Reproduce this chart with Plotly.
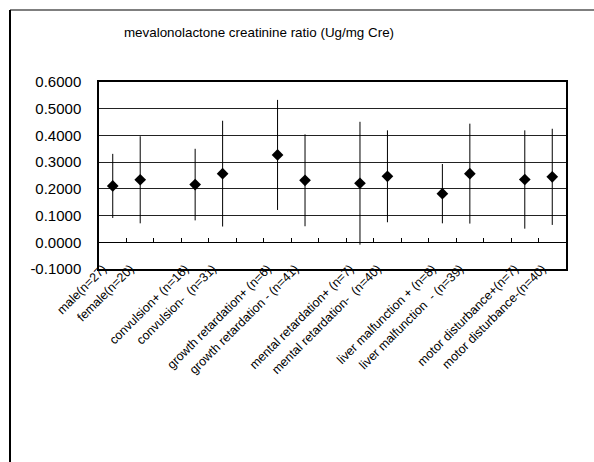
import plotly.graph_objects as go

categories = [
    "male(n=27)", "female(n=20)", "",
    "convulsion+ (n=16)", "convulsion-  (n=31)", "",
    "growth retardation+ (n=6)", "growth retardation - (n=41)", "",
    "mental retardation+ (n=7)", "mental retardation-  (n=40)", "",
    "liver malfunction + (n=8)", "liver malfunction  - (n=39)", "",
    "motor disturbance+(n=7)", "motor disturbance-(n=40)",
]
means = [0.211, 0.234, None, 0.216, 0.257, None, 0.327, 0.232, None,
         0.221, 0.247, None, 0.182, 0.257, None, 0.235, 0.245]
sds = [0.120, 0.163, None, 0.134, 0.198, None, 0.206, 0.172, None,
       0.230, 0.172, None, 0.111, 0.187, None, 0.184, 0.180]
y_ticks = [-0.1, 0.0, 0.1, 0.2, 0.3, 0.4, 0.5, 0.6]
y_ticktext = ["-0.1000", "0.0000", "0.1000", "0.2000", "0.3000", "0.4000", "0.5000", "0.6000"]
title = "mevalonolactone creatinine ratio (Ug/mg Cre)"

FONT = "Liberation Sans, Arial, sans-serif"
W, H = 594, 462
L, R, T, B = 99, 566, 82, 269  # plot area in px
xs = list(range(len(categories)))
px = [x for x, m in zip(xs, means) if m is not None]
py = [m for m in means if m is not None]
pe = [s for s in sds if s is not None]

fig = go.Figure()
fig.add_trace(go.Scatter(
    x=px, y=py, mode="markers",
    marker=dict(symbol="diamond", size=9, color="black"),
    error_y=dict(type="data", array=pe, visible=True, color="black", thickness=1, width=0),
    showlegend=False, hoverinfo="skip",
))
# dummy trace to activate the tick axis at y = 0
fig.add_trace(go.Scatter(x=[0], y=[None], xaxis="x2", mode="markers",
                         showlegend=False, hoverinfo="skip"))

rng = [-0.5, len(categories) - 0.5]
pw, ph = R - L, B - T
fig.update_layout(
    width=W, height=H,
    margin=dict(l=L, r=W - R, t=T, b=H - B),
    paper_bgcolor="white", plot_bgcolor="white",
    font=dict(family=FONT, color="black"),
    title=dict(text=title, x=259 / W, xanchor="center", y=1 - 32 / H, yanchor="middle",
               font=dict(size=13.4, family=FONT, color="black")),
    xaxis=dict(
        range=rng, tickmode="array",
        tickvals=[x for x, c in zip(xs, categories) if c],
        ticktext=[c for c in categories if c],
        tickangle=-45, tickfont=dict(size=12.5, family=FONT),
        ticklabelstandoff=-14, ticklabelshift=-10,
        showgrid=False, zeroline=False, ticks="",
        showline=True, mirror=True, linecolor="black", linewidth=1.5,
    ),
    xaxis2=dict(
        range=rng, overlaying="x", anchor="free", position=1 / 7,
        tickmode="array", tickvals=[i + 0.5 for i in range(len(categories) - 1)],
        ticks="inside", ticklen=4, tickcolor="black", tickwidth=1,
        showticklabels=False, showgrid=False, zeroline=False,
        showline=True, linecolor="black", linewidth=1,
    ),
    yaxis=dict(
        range=[-0.1, 0.6], tickmode="array", tickvals=y_ticks, ticktext=y_ticktext,
        tickfont=dict(size=15, family=FONT),
        showgrid=True, gridcolor="#222", gridwidth=1,
        zeroline=False,
        ticks="outside", ticklen=13, tickcolor="rgba(0,0,0,0)",
        showline=True, mirror=True, linecolor="black", linewidth=1.5,
    ),
    shapes=[
        dict(type="line", xref="paper", yref="paper",
             x0=(10 - L) / pw, x1=(10 - L) / pw, y0=(B - H) / ph, y1=(B - 10) / ph,
             line=dict(color="black", width=2)),
        dict(type="line", xref="paper", yref="paper",
             x0=(10 - L) / pw, x1=(W - L) / pw, y0=(B - 10) / ph, y1=(B - 10) / ph,
             line=dict(color="black", width=1.2)),
    ],
)

fig.write_html(
    "out.html",
    config={"displayModeBar": False},
    post_script="document.body.style.margin='0';document.documentElement.style.overflow='hidden';",
)
